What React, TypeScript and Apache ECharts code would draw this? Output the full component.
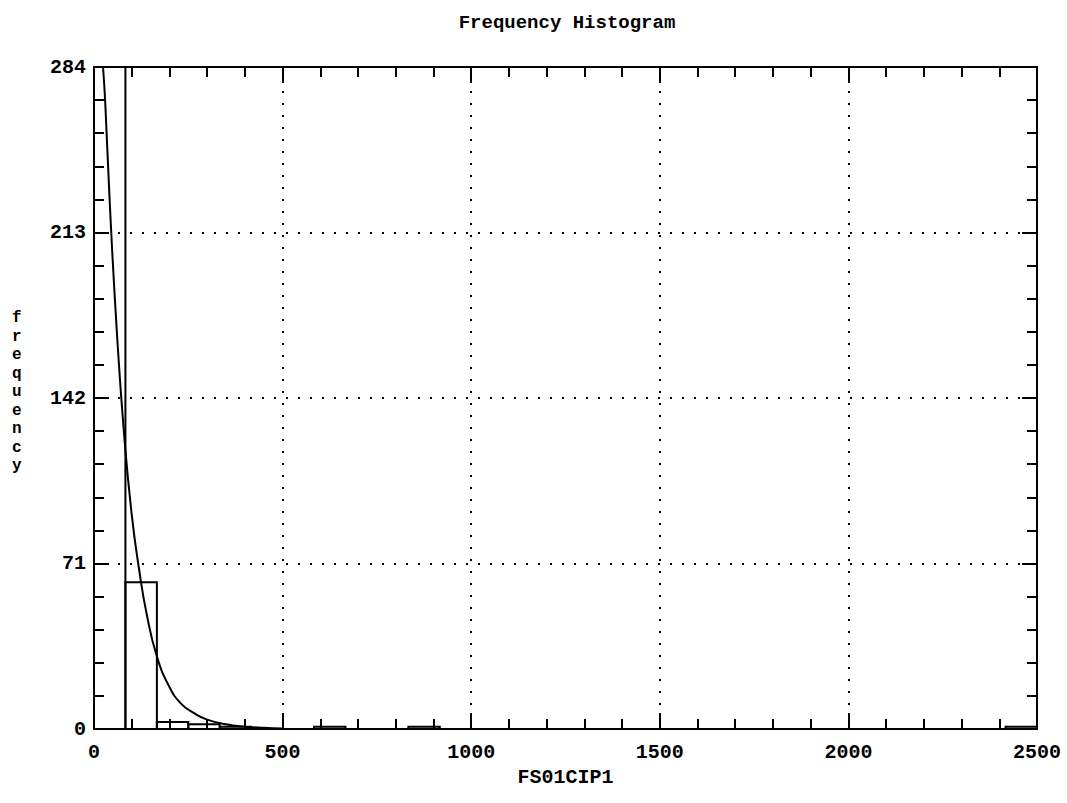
import React, { useEffect, useRef } from "react";
import * as echarts from "echarts";

const chartTitle = "Frequency Histogram";
const xName = "FS01CIP1";
const yName = "frequency";

const xMin = 0;
const xMax = 2500;
const xStep = 500;
const yMin = 0;
const yMax = 284;
const yStep = 71;

// histogram bins (only non-empty bins), bin width ~83.3
const binLow = [0, 83.3, 166.7, 250, 333.3, 583.3, 833.3, 2416.7];
const binHigh = [83.3, 166.7, 250, 333.3, 416.7, 666.7, 916.7, 2500];
const binCount = [284, 63, 3, 2, 1, 1, 1, 1];

// fitted curve points
const curveX = [24, 30, 42, 60, 80, 100, 120, 140, 167, 200, 230, 263, 300, 350, 400, 450, 500];
const curveY = [284, 268, 225, 172, 126, 92, 68, 49, 31, 18, 11, 7, 4, 2, 1, 0.5, 0.2];

const FONT = "Liberation Mono";

export default function App() {
  const ref = useRef<HTMLDivElement>(null);

  useEffect(() => {
    if (!ref.current) return;
    const chart = echarts.init(ref.current, null, { renderer: "svg" });

    const barData = binLow.map((lo, i) => [lo, binHigh[i], binCount[i]]);
    const curveData = curveX.map((x, i) => [x, curveY[i]]);

    const axisLine = { show: true, onZero: false, lineStyle: { color: "#000", width: 2 } };
    const split = { show: true, lineStyle: { color: "#000", width: 2, type: [2, 10] as any } };

    const xCommon = {
      type: "value" as const,
      min: xMin,
      max: xMax,
      interval: xStep,
      axisLine,
      axisTick: { show: true, inside: true, length: 16, lineStyle: { color: "#000", width: 2 } },
      minorTick: { show: true, splitNumber: 5, length: 10, lineStyle: { color: "#000", width: 2 } },
    };
    const yCommon = {
      type: "value" as const,
      min: yMin,
      max: yMax,
      interval: yStep,
      axisLine,
      axisTick: { show: true, inside: true, length: 15, lineStyle: { color: "#000", width: 2 } },
      minorTick: { show: true, splitNumber: 5, length: 10, lineStyle: { color: "#000", width: 2 } },
    };

    const labelStyle = { fontFamily: FONT, fontSize: 20, color: "#000", fontWeight: "bold" as const };

    chart.setOption({
      animation: false,
      backgroundColor: "#fff",
      title: {
        text: chartTitle,
        left: 562,
        top: 8,
        textAlign: "center",
        textStyle: { fontFamily: FONT, fontSize: 19, fontWeight: "bold", color: "#000" },
      },
      grid: { left: 94, right: 30, top: 67, bottom: 74 },
      xAxis: [
        {
          ...xCommon,
          position: "bottom",
          name: xName,
          nameLocation: "middle",
          nameGap: 38,
          nameTextStyle: { ...labelStyle },
          axisLabel: { ...labelStyle, margin: 13, formatter: (v: number) => String(v) },
          splitLine: split,
        },
        {
          ...xCommon,
          position: "top",
          axisLabel: { show: false },
          splitLine: { show: false },
        },
      ],
      yAxis: [
        {
          ...yCommon,
          position: "left",
          axisLabel: { ...labelStyle, margin: 8, formatter: (v: number) => String(v) },
          splitLine: split,
        },
        {
          ...yCommon,
          position: "right",
          axisLabel: { show: false },
          splitLine: { show: false },
        },
      ],
      graphic: [
        {
          type: "text",
          left: 12,
          top: 309,
          style: {
            text: yName.split("").join("\n"),
            fontFamily: FONT,
            fontSize: 16,
            fontWeight: "bold",
            lineHeight: 18.5,
            fill: "#000",
            align: "center",
          },
        },
      ],
      series: [
        {
          type: "custom",
          xAxisIndex: 0,
          yAxisIndex: 0,
          data: barData,
          renderItem: (params: any, api: any) => {
            const p0 = api.coord([api.value(0), api.value(2)]);
            const p1 = api.coord([api.value(1), 0]);
            return {
              type: "rect",
              shape: { x: p0[0], y: p0[1], width: p1[0] - p0[0], height: p1[1] - p0[1] },
              style: { fill: "none", stroke: "#000", lineWidth: 2 },
            };
          },
          z: 3,
        },
        {
          type: "line",
          xAxisIndex: 0,
          yAxisIndex: 0,
          data: curveData,
          smooth: true,
          showSymbol: false,
          clip: true,
          lineStyle: { color: "#000", width: 2 },
          z: 4,
        },
      ],
    });

    return () => chart.dispose();
  }, []);

  return (
    <div
      ref={ref}
      style={{ position: "fixed", left: 0, top: 0, width: 1067, height: 803, background: "#fff" }}
    />
  );
}
